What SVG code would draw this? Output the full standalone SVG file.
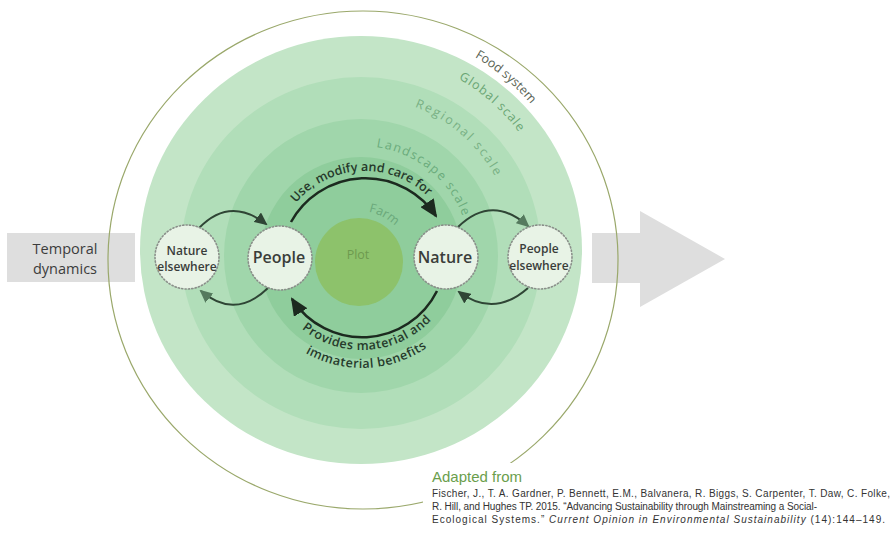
<svg xmlns="http://www.w3.org/2000/svg" width="893" height="534" viewBox="0 0 893 534">
<style>
.lbl{font-family:"Open Sans","Liberation Sans",sans-serif;font-weight:600}
.ring{font-family:"Open Sans","Liberation Sans",sans-serif;font-size:12.5px;font-weight:400}
.node{fill:#e8f3e6;stroke:#8a8f8a;stroke-width:1.6;stroke-dasharray:1.2 2.2;stroke-linecap:round}
.ntext{font-family:"Open Sans","Liberation Sans",sans-serif;font-weight:600;fill:#3a3d3a;text-anchor:middle}
.main{fill:none;stroke:#1c2a1f;stroke-width:2.5}
.side{fill:none;stroke:#2f4535;stroke-width:2}
.cite{font-family:"Liberation Sans",Arial,sans-serif;font-size:10px;fill:#333}
</style>
<defs>
<marker id="ahBig" markerUnits="userSpaceOnUse" markerWidth="18" markerHeight="16" refX="16" refY="8" orient="auto"><path d="M0,0 L18,8 L0,16 z" fill="#1c2a1f"/></marker>
<marker id="ahDark" markerUnits="userSpaceOnUse" markerWidth="13" markerHeight="12" refX="11" refY="6" orient="auto"><path d="M0,0 L13,6 L0,12 z" fill="#2f4535"/></marker>
<marker id="ahLight" markerUnits="userSpaceOnUse" markerWidth="13" markerHeight="12" refX="11" refY="6" orient="auto"><path d="M0,0 L13,6 L0,12 z" fill="#557a5e"/></marker>
<path id="pFood" d="M 361 26 A 224 224 0 0 1 585 250"/>
<path id="pGlobal" d="M 361 53 A 197 197 0 0 1 558 250"/>
<path id="pRegional" d="M 361 97 A 153 153 0 0 1 514 250"/>
<path id="pLandscape" d="M 361 146 A 109 109 0 0 1 470 255"/>
<path id="pFarm" d="M 359 211 A 51 51 0 0 1 410 262"/>
<path id="pUse" d="M 274 262 A 91 91 0 0 1 456 262"/>
<path id="pProv1" d="M 266 254 A 96 96 0 0 0 458 254"/>
<path id="pProv2" d="M 248 254 A 114 114 0 0 0 476 254"/>
</defs>

<!-- temporal dynamics band -->
<rect x="7" y="233" width="128" height="49" fill="#dedede"/>
<polygon points="592,233 640,233 640,211 725,259 640,307 640,283 592,283" fill="#dedede"/>

<!-- food system outline -->
<ellipse cx="363" cy="260" rx="255" ry="249" fill="none" stroke="#9aa86b" stroke-width="1.2"/>

<!-- scale rings -->
<g id="rings">
<ellipse id="global" cx="361" cy="250" rx="221" ry="214" fill="#c3e5c7"/>
<ellipse id="regional" cx="361" cy="253" rx="180" ry="176" fill="#b1deb9"/>
<circle id="landscape" cx="361" cy="256" r="137" fill="#a0d6ab"/>
<circle id="farm" cx="361" cy="258" r="101" fill="#8fcd9c"/>
<circle id="plot" cx="359" cy="262" r="44" fill="#8dc26b"/>
</g>

<rect x="423" y="463" width="470" height="71" fill="#ffffff"/>

<g id="ring-labels">
<text class="ring" font-size="14" fill="#5b6455"><textPath href="#pFood" startOffset="156" text-anchor="middle">Food system</textPath></text>
<text class="ring" fill="#6aa574" letter-spacing="1"><textPath href="#pGlobal" startOffset="143" text-anchor="middle">Global scale</textPath></text>
<text class="ring" fill="#78b084" letter-spacing="2"><textPath href="#pRegional" startOffset="110" text-anchor="middle">Regional scale</textPath></text>
<text class="ring" fill="#6aab7b" letter-spacing="1.5"><textPath href="#pLandscape" startOffset="74" text-anchor="middle">Landscape scale</textPath></text>
<text class="ring" font-size="13" fill="#6aa87a"><textPath href="#pFarm" startOffset="25" text-anchor="middle">Farm</textPath></text>
<text class="ring" font-size="13" fill="#6d9a4f" text-anchor="middle" x="358" y="259">Plot</text>
</g>

<g id="temporal-label">
<text font-family="Open Sans, Liberation Sans, sans-serif" font-size="14.5" font-weight="500" fill="#3c3c3c" text-anchor="middle" x="65" y="254">Temporal</text>
<text font-family="Open Sans, Liberation Sans, sans-serif" font-size="14.5" font-weight="500" fill="#3c3c3c" text-anchor="middle" x="65" y="274">dynamics</text>
</g>

<g id="connectors">
<path class="main" d="M 291 222 A 85 85 0 0 1 436 216" marker-end="url(#ahBig)"/>
<path class="main" d="M 437 291 A 83.5 83.5 0 0 1 292 299" marker-end="url(#ahBig)"/>
<path class="side" d="M 199 228 Q 230 196 266 224" marker-end="url(#ahDark)"/>
<path class="side" d="M 268 288 Q 235 320 201 291" marker-end="url(#ahLight)"/>
<path class="side" d="M 458 227 Q 492 194 528 226" marker-end="url(#ahLight)"/>
<path class="side" d="M 528 288 Q 494 318 459 292" marker-end="url(#ahDark)"/>
<text class="lbl" font-size="12.5" fill="#263a2b"><textPath href="#pUse" startOffset="138" text-anchor="middle">Use, modify and care for</textPath></text>
<text class="lbl" font-size="12.5" fill="#263a2b" letter-spacing="0.5"><textPath href="#pProv1" startOffset="157" text-anchor="middle">Provides material and</textPath></text>
<text class="lbl" font-size="12.5" fill="#263a2b" letter-spacing="0.5"><textPath href="#pProv2" startOffset="184" text-anchor="middle">immaterial benefits</textPath></text>
</g>

<g id="nature-elsewhere">
<circle class="node" cx="187" cy="257" r="32"/>
<text class="ntext" font-size="12" x="187" y="255">Nature</text>
<text class="ntext" font-size="12" x="187" y="271">elsewhere</text>
</g>
<g id="people">
<circle class="node" cx="280" cy="258" r="32"/>
<text class="ntext" font-size="16" x="279" y="263">People</text>
</g>
<g id="nature">
<circle class="node" cx="446" cy="257" r="32"/>
<text class="ntext" font-size="16" x="445" y="263">Nature</text>
</g>
<g id="people-elsewhere">
<circle class="node" cx="540" cy="257" r="32"/>
<text class="ntext" font-size="12" x="539" y="253">People</text>
<text class="ntext" font-size="12" x="539" y="270">elsewhere</text>
</g>

<g id="citation">
<text x="432" y="482" font-family="Liberation Sans, Arial, sans-serif" font-size="15" fill="#6a9e4c">Adapted from</text>
<text class="cite" x="432" y="497" textLength="458" lengthAdjust="spacing">Fischer, J., T. A. Gardner, P. Bennett, E.M., Balvanera, R. Biggs, S. Carpenter, T. Daw, C. Folke,</text>
<text class="cite" x="432" y="510" textLength="385" lengthAdjust="spacing">R. Hill, and Hughes TP. 2015. “Advancing Sustainability through Mainstreaming a Social-</text>
<text class="cite" x="432" y="523" textLength="453" lengthAdjust="spacing">Ecological Systems.” <tspan font-style="italic">Current Opinion in Environmental Sustainability</tspan> (14):144–149.</text>
</g>
</svg>
